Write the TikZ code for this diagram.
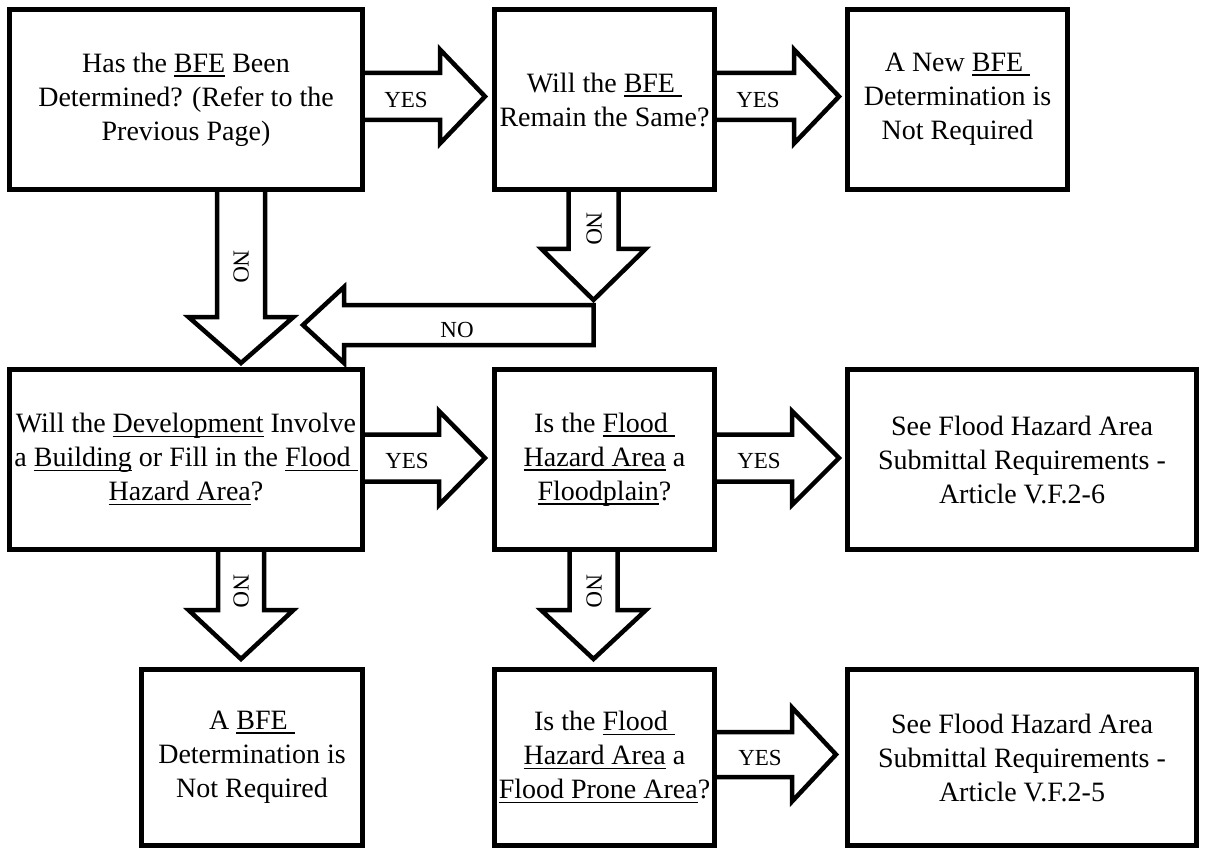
\documentclass[tikz,border=0pt]{standalone}
\usepackage{fontspec}
\setmainfont{Liberation Serif}
\usetikzlibrary{calc}
\newsavebox\ulbox
\newcommand\myul[1]{\sbox\ulbox{#1}\rlap{\rule[-4.5pt]{\wd\ulbox}{1.8pt}}\usebox\ulbox}
\newcommand\hfat[5]{\draw[fat] ($(#1)+(0,-#3)$) -- ($(#2)+(-#5,-#3)$) -- ($(#2)+(-#5,-#4)$) -- (#2) -- ($(#2)+(-#5,#4)$) -- ($(#2)+(-#5,#3)$) -- ($(#1)+(0,#3)$);}
\newcommand\vfat[5]{\draw[fat] ($(#1)+(-#3,0)$) -- ($(#2)+(-#3,-#5)$) -- ($(#2)+(-#4,-#5)$) -- (#2) -- ($(#2)+(#4,-#5)$) -- ($(#2)+(#3,-#5)$) -- ($(#1)+(#3,0)$);}
\tikzset{
  box/.style={draw, line width=5.2pt, inner sep=0pt, align=center,
    font=\fontsize{28}{34}\selectfont, minimum height=179.8pt},
  fat/.style={draw, line width=4.5pt, line join=miter},
  lbl/.style={font=\fontsize{23}{27}\selectfont, inner sep=0pt},
}
\begin{document}
\begin{tikzpicture}[x=1pt,y=-1pt]
\fill[white] (0,0) rectangle (1205,853);
\useasboundingbox (0,0) rectangle (1205,853);

% boxes
\node[box, minimum width=352.8pt] (A) at (186,99.5) {Has the \myul{BFE} Been\\Determined? (Refer to the\\Previous Page)};
\node[box, minimum width=219.8pt] (B) at (604.5,99.5) {Will the \myul{BFE\ }\\Remain the Same?};
\node[box, minimum width=219.8pt] (C) at (957.5,99.5) {A New \myul{BFE\ }\\Determination is\\Not Required};
\node[box, minimum width=352.8pt] (D) at (186,459.5) {Will the \myul{Development} Involve\\a \myul{Building} or Fill in the \myul{Flood\ }\\\myul{Hazard Area}?};
\node[box, minimum width=219.8pt] (E) at (604.5,459.5) {Is the \myul{Flood\ }\\\myul{Hazard Area} a\\\myul{Floodplain}?};
\node[box, minimum width=348.8pt] (F) at (1022,459.5) {See Flood Hazard Area\\Submittal Requirements -\\Article V.F.2-6};
\node[box, minimum width=220.8pt, minimum height=175.8pt] (G) at (252,757.5) {A \myul{BFE\ }\\Determination is\\Not Required};
\node[box, minimum width=219.8pt, minimum height=175.8pt] (H) at (604.5,757.5) {Is the \myul{Flood\ }\\\myul{Hazard Area} a\\\myul{Flood Prone Area}?};
\node[box, minimum width=348.8pt, minimum height=175.8pt] (I) at (1022,757.5) {See Flood Hazard Area\\Submittal Requirements -\\Article V.F.2-5};

% helper coordinates
\coordinate (c1) at (241,0);
\coordinate (c2) at (593.5,0);
\coordinate (bR) at (593.5,325);
\coordinate (bT) at (303,325);

% horizontal YES arrows
\coordinate (sAB) at ($(A.east)+(-1,-3)$);
\coordinate (tAB) at ($(B.west)+(-7,-3)$);
\hfat{sAB}{tAB}{23.5}{47}{45}
\coordinate (sBC) at ($(B.east)+(-1,-3)$);
\coordinate (tBC) at ($(C.west)+(-6,-3)$);
\hfat{sBC}{tBC}{23.5}{47}{45}
\coordinate (sDE) at ($(D.east)+(-1,-1.5)$);
\coordinate (tDE) at ($(E.west)+(-7,-1.5)$);
\hfat{sDE}{tDE}{23.5}{47}{46}
\coordinate (sEF) at ($(E.east)+(-1,-1.5)$);
\coordinate (tEF) at ($(F.west)+(-6,-1.5)$);
\hfat{sEF}{tEF}{23.5}{47}{47}
\coordinate (sHI) at ($(H.east)+(-1,-3)$);
\coordinate (tHI) at ($(I.west)+(-9,-3)$);
\hfat{sHI}{tHI}{22.5}{47}{44}

% vertical NO arrows
\coordinate (sAD) at ($(c1|-A.south)+(0,-1)$);
\coordinate (tAD) at ($(c1|-D.north)+(0,-4)$);
\vfat{sAD}{tAD}{24}{52.5}{46}
\coordinate (sBb) at ($(c2|-B.south)+(0,-1)$);
\coordinate (tBb) at ($(bR)+(0,-25)$);
\vfat{sBb}{tBb}{25}{52}{51}
\coordinate (sDG) at ($(c1|-D.south)+(0,-1)$);
\coordinate (tDG) at ($(c1|-G.north)+(0,-8)$);
\vfat{sDG}{tDG}{23}{52.5}{49}
\coordinate (sEH) at ($(c2|-E.south)+(0,-1)$);
\coordinate (tEH) at ($(c2|-H.north)+(0,-8)$);
\vfat{sEH}{tEH}{24}{52.5}{49}

% bent NO arrow towards D
\draw[fat] ($(bR)+(0,-20)$) -- ($(bT)+(41,-20)$) -- ($(bT)+(41,-38)$) -- (bT)
  -- ($(bT)+(41,38)$) -- ($(bT)+(41,20)$) -- ($(bR)+(0,20)$) -- cycle;

% labels
\node[lbl] (lAB) at (406,100) {YES};
\node[lbl] (lBC) at (758,100) {YES};
\node[lbl] (lDE) at (407,461) {YES};
\node[lbl] (lEF) at (759,461) {YES};
\node[lbl] (lHI) at (760,758) {YES};
\node[lbl, rotate=-90] (lAD) at (241,267) {NO};
\node[lbl, rotate=-90] (lBb) at (594,229) {NO};
\node[lbl] (lbend) at (457,330) {NO};
\node[lbl, rotate=-90] (lDG) at (241,591) {NO};
\node[lbl, rotate=-90] (lEH) at (594,591) {NO};
\end{tikzpicture}
\end{document}
